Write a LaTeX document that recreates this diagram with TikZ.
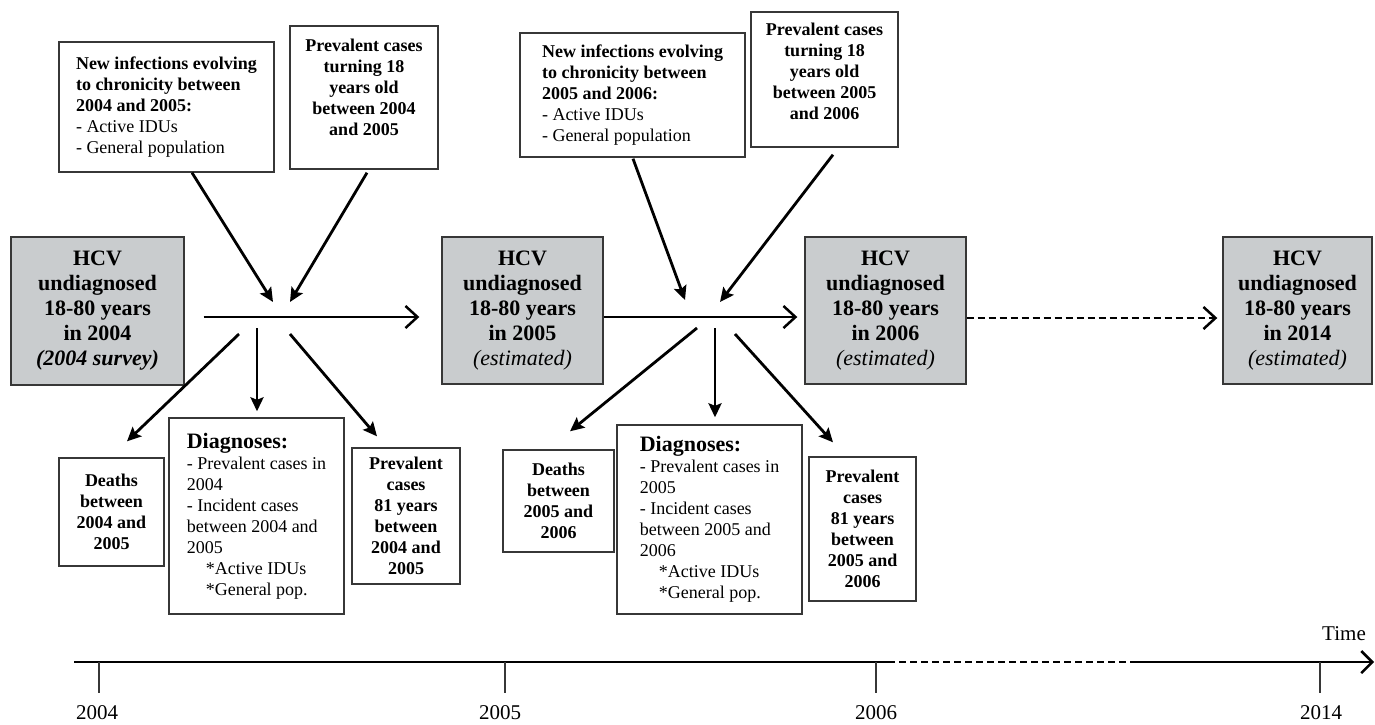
\documentclass[tikz,border=0pt]{standalone}
\usepackage{fontspec}
\setmainfont{Liberation Serif}
\usetikzlibrary{arrows.meta,calc}
\definecolor{boxgray}{RGB}{201,204,206}
\definecolor{edge}{RGB}{55,55,55}
\tikzset{
  wbox/.style={draw=edge,line width=1.4pt,fill=white,inner sep=0pt,align=center,
    font=\bfseries\fontsize{18}{21}\selectfont},
  gbox/.style={draw=edge,line width=1.4pt,fill=boxgray,inner sep=0pt,align=center,
    font=\bfseries\fontsize{22}{25}\selectfont},
  dbox/.style={draw=edge,line width=1.4pt,fill=white,inner sep=0pt,align=left,
    font=\fontsize{18}{21}\selectfont},
  arr/.style={line width=2.8pt,-{Stealth[length=14pt,width=13pt,inset=2.5pt]}},
  harr/.style={line width=2.5pt,-{Straight Barb[length=12pt,width=22pt,line width=2.5pt]}},
  yearlbl/.style={font=\fontsize{21}{24}\selectfont,inner sep=0pt},
}
\begin{document}
\begin{tikzpicture}[x=1pt,y=-1pt]
\useasboundingbox (0,0) rectangle (1375,724);

% top input boxes
\node[wbox,align=left,minimum width=215,minimum height=130] (b1) at (166.5,107)
  {New infections evolving\\to chronicity between\\2004 and 2005:\\
   {\mdseries - Active IDUs}\\{\mdseries - General population}};
\node[wbox,minimum width=148,minimum height=143] (b2) at (364,97.5)
  {Prevalent cases\\turning 18\\years old\\between 2004\\and 2005\rule[-20pt]{0pt}{20pt}};
\node[wbox,align=left,minimum width=225,minimum height=124] (b3) at (632.5,95)
  {New infections evolving\\to chronicity between\\2005 and 2006:\\
   {\mdseries - Active IDUs}\\{\mdseries - General population}};
\node[wbox,minimum width=147,minimum height=135] (b4) at (824.5,79.5)
  {Prevalent cases\\turning 18\\years old\\between 2005\\and 2006\rule[-17pt]{0pt}{17pt}};

% gray state boxes
\node[gbox,minimum width=173,minimum height=148] (g1) at (97.5,311)
  {HCV\\undiagnosed\\18-80 years\\in 2004\\\textit{(2004 survey)}};
\node[gbox,minimum width=161,minimum height=147] (g2) at (522.5,310.5)
  {HCV\\undiagnosed\\18-80 years\\in 2005\\{\mdseries\itshape (estimated)}};
\node[gbox,minimum width=161,minimum height=147] (g3) at (885.5,310.5)
  {HCV\\undiagnosed\\18-80 years\\in 2006\\{\mdseries\itshape (estimated)}};
\node[gbox,minimum width=149,minimum height=147] (g4) at (1297.5,310.5)
  {HCV\\undiagnosed\\18-80 years\\in 2014\\{\mdseries\itshape (estimated)}};

% bottom output boxes
\node[wbox,minimum width=105,minimum height=108] (d1) at (111.5,512)
  {Deaths\\between\\2004 and\\2005};
\node[dbox,minimum width=175,minimum height=196] (dg1) at (256.5,516)
  {{\bfseries\fontsize{22}{23}\selectfont Diagnoses:}\\- Prevalent cases in\\2004\\- Incident cases\\between 2004 and\\2005\\
   \hspace*{19pt}*Active IDUs\\\hspace*{19pt}*General pop.};
\node[wbox,minimum width=108,minimum height=136] (p1) at (406,516)
  {Prevalent\\cases\\81 years\\between\\2004 and\\2005};
\node[wbox,minimum width=111,minimum height=102] (d2) at (558.5,501)
  {Deaths\\between\\2005 and\\2006};
\node[dbox,minimum width=185,minimum height=189] (dg2) at (709.5,519.5)
  {{\bfseries\fontsize{22}{23}\selectfont Diagnoses:}\\- Prevalent cases in\\2005\\- Incident cases\\between 2005 and\\2006\\
   \hspace*{19pt}*Active IDUs\\\hspace*{19pt}*General pop.};
\node[wbox,minimum width=107,minimum height=144] (p2) at (862.5,529)
  {Prevalent\\cases\\81 years\\between\\2005 and\\2006};

% junctions
\coordinate (j1) at (257,316);
\coordinate (j2) at (715,316);

% horizontal flow arrows
\draw[harr] ($(g1.east)+(19,6)$) -- ($(g2.west)+(-22,6.5)$);
\draw[harr] ($(g2.east)+(0,6.5)$) -- ($(g3.west)+(-7,6.5)$);
\draw[harr,dashed,dash pattern=on 7pt off 4pt] ($(g3.east)+(0,7.5)$) -- ($(g4.west)+(-5,7.5)$);

% inputs to junction 1
\draw[arr] ($(b1.south)+(25.5,0)$) -- ($(j1)+(16,-14)$);
\draw[arr] ($(b2.south)+(3,3)$) -- ($(j1)+(33,-14)$);
% outputs from junction 1
\draw[arr] ($(j1)+(-18,18)$) -- ($(d1.north)+(15.5,-16)$);
\draw[arr] ($(j1)+(0,12)$) -- ($(dg1.north)+(0.5,-6)$);
\draw[arr] ($(j1)+(33,18)$) -- ($(p1.north)+(-29,-11)$);

% inputs to junction 2
\draw[arr] ($(b3.south)+(0.5,1)$) -- ($(j2)+(-30,-16)$);
\draw[arr] ($(b4.south)+(8.5,7)$) -- ($(j2)+(5,-14)$);
% outputs from junction 2
\draw[arr] ($(j2)+(-18,12)$) -- ($(d2.north)+(11.5,-18)$);
\draw[arr] ($(j2)+(0,12)$) -- ($(dg2.north)+(5.5,-7)$);
\draw[arr] ($(j2)+(20,18)$) -- ($(p2.north)+(-29.5,-14)$);

% timeline
\coordinate (t0) at (74,662);
\coordinate (ta) at (888,662);
\coordinate (tb) at (1137,662);
\coordinate (te) at (1374,662);
\draw[line width=2.6pt] (t0) -- (ta);
\draw[line width=2.6pt,dashed,dash pattern=on 7pt off 4pt] (ta) -- (tb);
\draw[line width=2.6pt,-{Straight Barb[length=11pt,width=22pt,line width=2.5pt]}] (tb) -- (te);
\foreach \xx/\nm in {99/k1,505/k2,876/k3,1320/k4}{
  \coordinate (\nm) at (\xx,662);
  \draw[line width=1.5pt,draw=edge] (\nm) -- ++(0,31);
}
\node[yearlbl] (y1) at (97,713) {2004};
\node[yearlbl] (y2) at (500,713) {2005};
\node[yearlbl] (y3) at (876,713) {2006};
\node[yearlbl] (y4) at (1321,713) {2014};
\node[yearlbl] (tm) at (1344,634) {Time};
\end{tikzpicture}
\end{document}
